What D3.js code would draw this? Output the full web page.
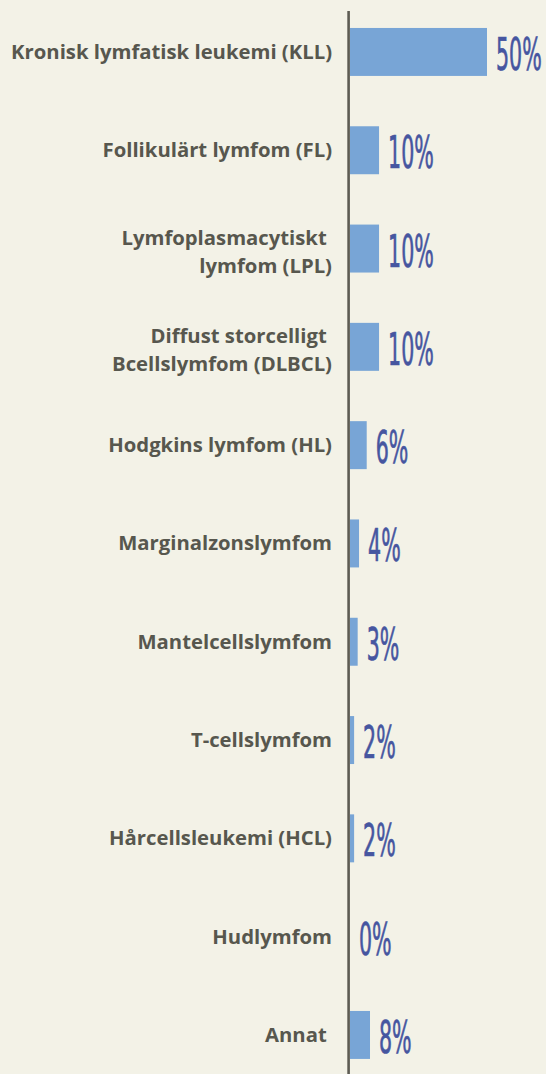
<!DOCTYPE html>
<html><head><meta charset="utf-8">
<script src="https://cdn.jsdelivr.net/npm/d3@7"></script>
<style>
html,body{margin:0;padding:0;background:#f3f2e7;}
svg{display:block;}
.lbl{font-family:"Open Sans",sans-serif;font-weight:700;fill:#57574e;white-space:pre;}
.val{font-family:"Liberation Sans Narrow","DejaVu Sans Condensed",sans-serif;fill:#4656a0;stroke:#4656a0;stroke-width:0.7;}
</style></head>
<body>
<script>
const categories = [
  ["Kronisk lymfatisk leukemi (KLL)"],
  ["Follikulärt lymfom (FL)"],
  ["Lymfoplasmacytiskt ", "lymfom (LPL)"],
  ["Diffust storcelligt ", "Bcellslymfom (DLBCL)"],
  ["Hodgkins lymfom (HL)"],
  ["Marginalzonslymfom"],
  ["Mantelcellslymfom"],
  ["T-cellslymfom"],
  ["Hårcellsleukemi (HCL)"],
  ["Hudlymfom"],
  ["Annat "]
];
const values = [50, 10.6, 10.6, 10.6, 6.1, 3.3, 2.8, 1.5, 1.5, 0, 7.3];
const valueLabels = ["50%", "10%", "10%", "10%", "6%", "4%", "3%", "2%", "2%", "0%", "8%"];

const W = 546, H = 1074;
const svg = d3.select("body").append("svg").attr("width", W).attr("height", H);
svg.append("rect").attr("width", W).attr("height", H).attr("fill", "#f3f2e7");

const x0 = 350;
const x = d3.scaleLinear().domain([0, 50]).range([x0, 487]);
const idx = d3.range(categories.length);
const y = d3.scaleBand().domain(idx).range([2.8, 1084.1]).paddingInner(0.512).paddingOuter(0.256);

svg.selectAll("rect.bar").data(idx).enter().append("rect")
  .attr("class", "bar")
  .attr("x", x(0))
  .attr("y", i => y(i))
  .attr("width", i => x(values[i]) - x(0))
  .attr("height", y.bandwidth())
  .attr("fill", "#78a5d6");

svg.append("line").attr("x1", 348.6).attr("x2", 348.6).attr("y1", 11).attr("y2", H)
  .attr("stroke", "#5d5c53").attr("stroke-width", 2.6);

const lblSize = 20.3;
const g = svg.selectAll("text.lbl").data(idx).enter().append("text")
  .attr("class", "lbl")
  .attr("text-anchor", "end")
  .attr("font-size", lblSize);
g.each(function(i) {
  const lines = categories[i];
  const c = y(i) + y.bandwidth() / 2;
  const t = d3.select(this);
  if (lines.length === 1) {
    t.append("tspan").attr("x", 332).attr("y", c + 7).text(lines[0]);
  } else {
    lines.forEach((ln, k) => {
      t.append("tspan").attr("x", 332).attr("y", c - 4 + k * 28).text(ln);
    });
  }
});

svg.selectAll("text.val").data(idx).enter().append("text")
  .attr("class", "val")
  .attr("font-size", 44)
  .attr("transform", i => `translate(${x(values[i]) + 9},${y(i) + y.bandwidth() / 2 + 18}) scale(0.52,1)`)
  .text(i => valueLabels[i]);
</script>
</body></html>
